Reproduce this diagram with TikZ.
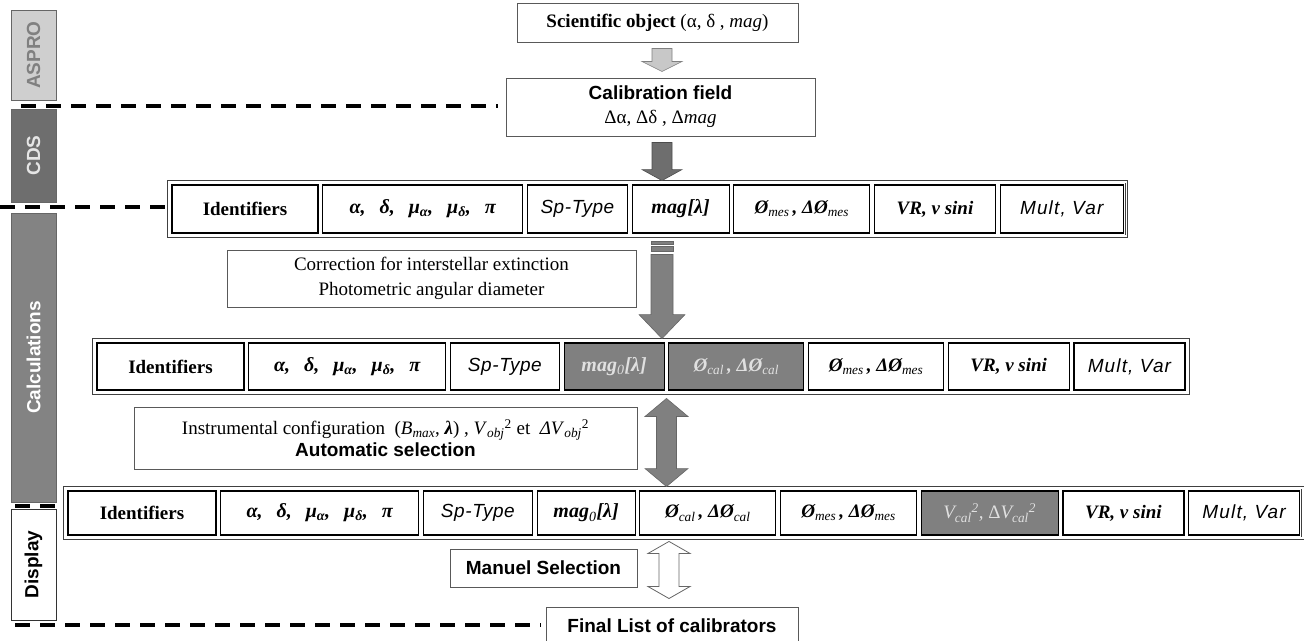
\documentclass[tikz,border=0pt]{standalone}
\usepackage{fontspec}
\setmainfont{Liberation Serif}
\setsansfont{Liberation Sans}
\usetikzlibrary{positioning,calc,fit}
\definecolor{barlight}{HTML}{CFCFCF}
\definecolor{bardark}{HTML}{6E6E6E}
\definecolor{barmid}{HTML}{838383}
\definecolor{cellgray}{HTML}{808080}
\definecolor{arrowlight}{HTML}{C8C8C8}
\tikzstyle{box}=[draw=black!65, line width=1pt, inner sep=0pt, align=center]
\tikzstyle{cell}=[draw=black, line width=1.2pt, inner sep=0pt, align=center]
\tikzstyle{graycell}=[cell, fill=cellgray, text=white!88!black]
\tikzstyle{frame}=[draw=black!75, double, double distance=1.6pt, line width=0.7pt, inner sep=2.5pt]
\tikzstyle{bar}=[draw=black!60, line width=0.8pt, minimum height=45pt, inner sep=0pt, rotate=90, font=\sffamily\bfseries]
\tikzstyle{sep}=[line width=4pt, dash pattern=on 15pt off 10pt]
\tikzstyle{lightarrow}=[fill=arrowlight, draw=black!50, line width=0.6pt]
\tikzstyle{darkarrow}=[fill=bardark, draw=black!70, line width=0.6pt]
\tikzstyle{grayarrow}=[fill=cellgray, draw=black!60, line width=0.6pt]
\tikzstyle{whitearrow}=[fill=white, draw=black!60, line width=0.8pt]
\newcommand{\idname}{\bfseries Identifiers}
\newcommand{\poslist}{\fontsize{20}{22}\selectfont\bfseries\itshape
  α,\hspace{0.7em}δ,\hspace{0.7em}μ\textsubscript{α},\hspace{0.7em}μ\textsubscript{δ},\hspace{0.7em}π}
\newcommand{\sptype}{\sffamily\itshape\addfontfeature{LetterSpace=3}Sp-Type}
\newcommand{\magband}[1]{\fontsize{20}{22}\selectfont\bfseries\itshape mag\textsubscript{\mdseries #1}[λ]}
\newcommand{\diamlist}[1]{\bfseries\itshape Ø\textsubscript{\mdseries #1}\,, ΔØ\textsubscript{\mdseries #1}}
\newcommand{\vrsini}{\bfseries\itshape VR, v sini}
\newcommand{\multvar}{\sffamily\itshape\addfontfeature{LetterSpace=6}Mult, Var}
% block arrows: style, top, tip, shaft half width, head half width, head length
\newcommand{\blockdown}[6]{
  \draw[#1] ($#2+(-#4,0)$) -- ($#2+(#4,0)$) -- ($#3+(#4,-#6)$) -- ($#3+(#5,-#6)$) -- #3
    -- ($#3+(-#5,-#6)$) -- ($#3+(-#4,-#6)$) -- cycle;
}
\newcommand{\blockboth}[6]{
  \draw[#1] #2 -- ($#2+(#5,#6)$) -- ($#2+(#4,#6)$) -- ($#3+(#4,-#6)$) -- ($#3+(#5,-#6)$) -- #3
    -- ($#3+(-#5,-#6)$) -- ($#3+(-#4,-#6)$) -- ($#2+(-#4,#6)$) -- ($#2+(-#5,#6)$) -- cycle;
}

\begin{document}
\fontsize{19}{22}\selectfont
\begin{tikzpicture}[x=1pt, y=-1pt]
  \useasboundingbox (0,0) rectangle (1305,640);
  % side bars
  \node[bar, fill=barlight, text=black!50, minimum width=90pt] (aspro) at (33.5,55) {ASPRO};
  \node[bar, fill=bardark, text=white!90!black, minimum width=93pt] (cds) at (33.5,155.5) {CDS};
  \node[bar, fill=barmid, text=white, minimum width=289pt] (calcs) at (33.5,357.5) {Calculations};
  \node[bar, fill=white, draw=black!80, minimum width=111pt] (disp) at (33.5,564.5) {Display};

  % top boxes
  \node[box, minimum width=281pt, minimum height=39pt] (sci) at (657.5,22.5)
    {{\bfseries Scientific object} (α, δ , \textit{mag})};
  \node[box, minimum width=309pt, minimum height=58pt] (calib) at (660.5,107)
    {{\sffamily\bfseries Calibration field}\\[2pt]Δα, Δδ , Δ\textit{mag}};

  % first table
  \begin{scope}[every node/.append style={minimum height=48pt}]
    \node[cell, minimum width=146pt] (r1id) at (245,209) {\idname};
    \node[cell, minimum width=200pt, right=3.5pt of r1id] (r1pos) {\poslist};
    \node[cell, minimum width=100pt, right=3.5pt of r1pos] (r1sp) {\sptype};
    \node[cell, minimum width=97pt, right=3.5pt of r1sp] (r1mag) {\magband{}};
    \node[cell, minimum width=136pt, right=3.5pt of r1mag] (r1mes) {\diamlist{mes}};
    \node[cell, minimum width=121pt, right=3.5pt of r1mes] (r1vr) {\vrsini};
    \node[cell, minimum width=123pt, right=3.5pt of r1vr] (r1mult) {\multvar};
  \end{scope}
  \node[frame, fit=(r1id)(r1mult)] (row1) {};

  \node[box, minimum width=409pt, minimum height=57pt] (corr) at (431.5,278.5)
    {Correction for interstellar extinction\\[3pt]Photometric angular diameter};

  % second table
  \begin{scope}[every node/.append style={minimum height=47pt}]
    \node[cell, minimum width=147pt] (r2id) at (170.5,366.5) {\idname};
    \node[cell, minimum width=197pt, right=3.5pt of r2id] (r2pos) {\poslist};
    \node[cell, minimum width=109pt, right=3.5pt of r2pos] (r2sp) {\sptype};
    \node[graycell, minimum width=100pt, right=3.5pt of r2sp] (r2mag) {\magband{0}};
    \node[graycell, minimum width=135pt, right=3.5pt of r2mag] (r2cal) {\diamlist{cal}};
    \node[cell, minimum width=135pt, right=3.5pt of r2cal] (r2mes) {\diamlist{mes}};
    \node[cell, minimum width=121pt, right=3.5pt of r2mes] (r2vr) {\vrsini};
    \node[cell, minimum width=111pt, right=3.5pt of r2vr] (r2mult) {\multvar};
  \end{scope}
  \node[frame, fit=(r2id)(r2mult)] (row2) {};

  \node[box, minimum width=503pt, minimum height=62pt] (instr) at (385.5,438)
    {Instrumental configuration~ (\textit{B}\textsubscript{\textit{max}}, \textbf{\textit{λ}}) ,
     \textit{V}\textsubscript{\textit{obj}}\textsuperscript{2} et~ \textit{ΔV}\textsubscript{\textit{obj}}\textsuperscript{2}\\
     {\sffamily\bfseries Automatic selection}};

  % third table
  \begin{scope}[every node/.append style={minimum height=44pt}]
    \node[cell, minimum width=148pt] (r3id) at (142,513) {\idname};
    \node[cell, minimum width=198pt, right=3.5pt of r3id] (r3pos) {\poslist};
    \node[cell, minimum width=109pt, right=3.5pt of r3pos] (r3sp) {\sptype};
    \node[cell, minimum width=98pt, right=3.5pt of r3sp] (r3mag) {\magband{0}};
    \node[cell, minimum width=136pt, right=3.5pt of r3mag] (r3cal) {\diamlist{cal}};
    \node[cell, minimum width=136pt, right=3.5pt of r3cal] (r3mes) {\diamlist{mes}};
    \node[graycell, minimum width=137pt, right=3.5pt of r3mes] (r3vis)
      {\itshape V\textsubscript{cal}\textsuperscript{2}, {\upshape Δ}V\textsubscript{cal}\textsuperscript{2}};
    \node[cell, minimum width=121pt, right=3.5pt of r3vis] (r3vr) {\vrsini};
    \node[cell, minimum width=111pt, right=3.5pt of r3vr] (r3mult) {\multvar};
  \end{scope}
  \node[frame, fit=(r3id)(r3mult)] (row3) {};

  \node[box, minimum width=187pt, minimum height=38pt, font=\sffamily\bfseries] (manual) at (543.5,568) {Manuel Selection};
  \node[box, minimum width=252pt, minimum height=38pt, font=\sffamily\bfseries] (final) at (672,626) {Final List of calibrators};

  % separators
  \coordinate (s1) at (21,106);
  \coordinate (s2) at (0,207);
  \coordinate (s3) at (15,506);
  \coordinate (s3e) at (56,506);
  \coordinate (s4) at (15,625);
  \draw[sep] (s1) -- ($(calib.west |- s1)+(-8,0)$);
  \draw[sep] (s2) -- (row1.west |- s2);
  \draw[sep] (s3) -- (s3e);
  \draw[sep] (s4) -- ($(final.west |- s4)+(-5,0)$);

  % arrows
  \coordinate (axis) at (662,0);
  \coordinate (axisb) at (666.5,0);
  \coordinate (axisc) at (669,0);
  \coordinate (a1top) at ($(sci.south -| axis)+(0,6)$);
  \coordinate (a1tip) at ($(calib.north -| axis)+(0,-6)$);
  \blockdown{lightarrow}{(a1top)}{(a1tip)}{10}{20}{10}
  \coordinate (a2top) at ($(calib.south -| axis)+(0,6)$);
  \coordinate (a2tip) at ($(row1.north -| axis)+(0,-1)$);
  \blockdown{darkarrow}{(a2top)}{(a2tip)}{10}{20}{11}
  \coordinate (a3top) at ($(row1.south -| axis)+(0,5)$);
  \coordinate (a3body) at ($(a3top)+(0,13)$);
  \coordinate (a3tip) at ($(row2.north -| axis)+(0,-1)$);
  \draw[grayarrow] ($(a3top)+(-11,0)$) rectangle ($(a3top)+(11,3)$);
  \draw[grayarrow] ($(a3top)+(-11,5)$) rectangle ($(a3top)+(11,10)$);
  \blockdown{grayarrow}{(a3body)}{(a3tip)}{11}{23}{24}
  \coordinate (a4top) at ($(row2.south -| axisb)+(0,5)$);
  \coordinate (a4tip) at ($(row3.north -| axisb)+(0,-1)$);
  \blockboth{grayarrow}{(a4top)}{(a4tip)}{10}{21.5}{18}
  \coordinate (a5top) at ($(row3.south -| axisc)+(0,3)$);
  \coordinate (a5tip) at ($(final.north -| axisc)+(0,-8)$);
  \blockboth{whitearrow}{(a5top)}{(a5tip)}{10}{21}{12}
\end{tikzpicture}
\end{document}
